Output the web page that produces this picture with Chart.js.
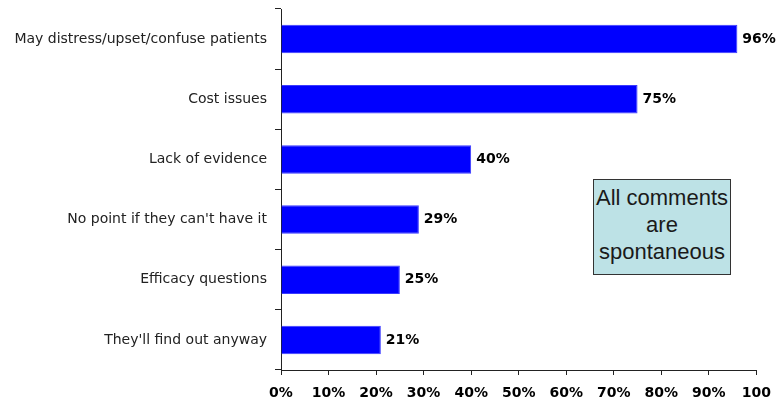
<!DOCTYPE html>
<html>
<head>
<meta charset="utf-8">
<script src="https://cdn.jsdelivr.net/npm/chart.js@4/dist/chart.umd.min.js"></script>
<style>
  html, body { margin: 0; padding: 0; background: #fff; overflow: hidden; }
  #wrap { position: relative; width: 781px; height: 401px; }
  #note {
    position: absolute; left: 593px; top: 179px; width: 136px; height: 90px;
    background: #bde2e6; border: 1px solid #333;
    font-family: "Liberation Sans", Arial, sans-serif; font-size: 22px; line-height: 27px;
    color: #1a1a1a; text-align: center; padding-top: 4px; box-sizing: content-box;
  }
</style>
</head>
<body>
<div id="wrap">
  <canvas id="c" width="781" height="401"></canvas>
  <div id="note">All comments<br>are<br>spontaneous</div>
</div>
<script>
const categories = [
  "May distress/upset/confuse patients",
  "Cost issues",
  "Lack of evidence",
  "No point if they can't have it",
  "Efficacy questions",
  "They'll find out anyway"
];
const values = [96, 75, 40, 29, 25, 21];
const valueLabels = ["96%", "75%", "40%", "29%", "25%", "21%"];
const xTickLabels = ["0%", "10%", "20%", "30%", "40%", "50%", "60%", "70%", "80%", "90%", "100"];

const valueLabelPlugin = {
  id: "valueLabels",
  afterDatasetsDraw(chart) {
    const ctx = chart.ctx;
    const meta = chart.getDatasetMeta(0);
    ctx.save();
    ctx.font = "bold 14px 'DejaVu Sans', Verdana, sans-serif";
    ctx.fillStyle = "#000";
    ctx.textAlign = "left";
    ctx.textBaseline = "middle";
    meta.data.forEach((bar, i) => {
      ctx.fillText(valueLabels[i], bar.x + 5, bar.y);
    });
    ctx.restore();
  }
};

new Chart(document.getElementById("c"), {
  type: "bar",
  data: {
    labels: categories,
    datasets: [{
      data: values,
      backgroundColor: "#0000ff",
      borderColor: "#3a3aff",
      borderWidth: 1,
      categoryPercentage: 1,
      barPercentage: 0.475
    }]
  },
  options: {
    indexAxis: "y",
    responsive: false,
    animation: false,
    layout: { padding: { top: 9, right: 13, left: 0, bottom: 0 } },
    plugins: { legend: { display: false }, tooltip: { enabled: false } },
    scales: {
      x: {
        min: 0, max: 100,
        afterFit(s) { s.height = 31; },
        border: { display: true, color: "#222", width: 1 },
        grid: { drawOnChartArea: false, drawTicks: true, tickLength: 5, color: "#222" },
        ticks: {
          stepSize: 10,
          autoSkip: false,
          maxRotation: 0,
          padding: 10,
          color: "#000",
          font: { family: "'DejaVu Sans', Verdana, sans-serif", size: 14, weight: "bold" },
          callback: (v, i) => xTickLabels[i]
        }
      },
      y: {
        afterFit(s) { s.width = 281; s.paddingTop = 0; s.paddingBottom = 0; },
        border: { display: true, color: "#222", width: 1 },
        grid: { drawOnChartArea: false, drawTicks: true, tickLength: 6, color: "#222", offset: true },
        ticks: {
          padding: 8,
          color: "#222",
          font: { family: "'DejaVu Sans', Verdana, sans-serif", size: 14 }
        }
      }
    }
  },
  plugins: [valueLabelPlugin]
});
</script>
</body>
</html>
